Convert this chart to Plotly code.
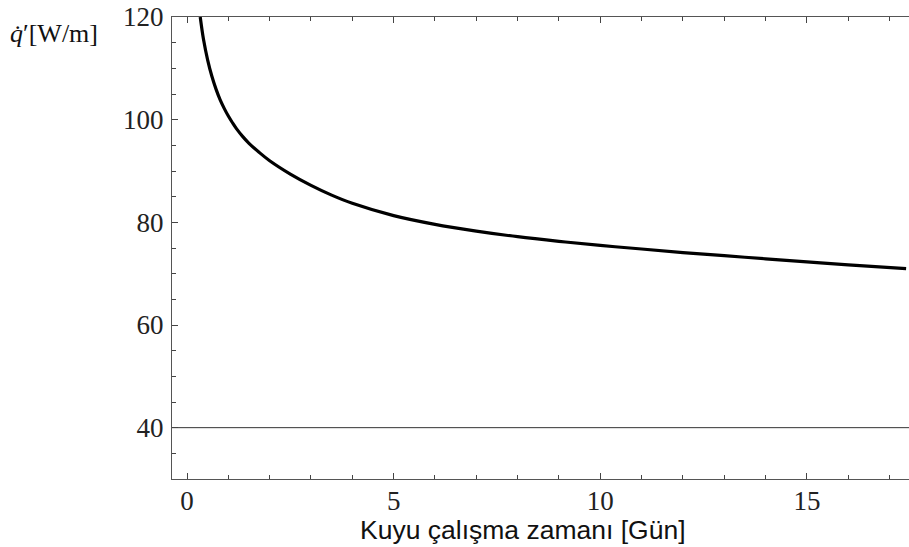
import plotly.graph_objects as go

# Data
time_days = [0.32, 0.40, 0.50, 0.60, 0.70, 0.80, 0.90, 1.0, 1.1, 1.2, 1.35, 1.5, 1.75, 2.0, 2.5, 3.0, 3.5, 4.0,
             5.0, 6.0, 7.0, 8.0, 9.0, 10.0, 11.0, 12.0, 13.0, 14.0, 15.0, 16.0, 17.4]
heat_rate = [120.0, 115.6, 111.6, 108.5, 106.0, 103.9, 102.2, 100.7, 99.4, 98.2, 96.7, 95.4, 93.6, 92.0, 89.4, 87.2,
             85.3, 83.7, 81.3, 79.6, 78.3, 77.2, 76.3, 75.5, 74.8, 74.1, 73.5, 72.9, 72.3, 71.7, 71.0]
baseline_value = 40
x_ticks = [0, 5, 10, 15]
y_ticks = [40, 60, 80, 100, 120]
x_range = [-0.363, 17.47]
y_range = [30, 120]

fig = go.Figure()
fig.add_trace(go.Scatter(x=x_range, y=[baseline_value, baseline_value], mode="lines",
                         line=dict(color="#333333", width=1), hoverinfo="skip", showlegend=False))
fig.add_trace(go.Scatter(x=time_days, y=heat_rate, mode="lines", line_shape="spline",
                         line=dict(color="black", width=3.2, smoothing=1.0), showlegend=False))

serif = "Liberation Serif, Times New Roman, serif"
fig.update_layout(
    width=909, height=547,
    margin=dict(l=172, r=0, t=17, b=68, pad=0),
    plot_bgcolor="white", paper_bgcolor="white",
    xaxis=dict(range=x_range, tickvals=x_ticks, ticks="inside", ticklen=6, tickwidth=1,
               tickcolor="#444", showline=True, linecolor="#555", linewidth=1.2, mirror="ticks",
               showgrid=False, zeroline=False, automargin=False, ticklabelstandoff=-3,
               tickfont=dict(family=serif, size=27, color="#222"),
               minor=dict(dtick=1, tick0=0, ticks="inside", ticklen=4, tickcolor="#444", showgrid=False)),
    yaxis=dict(range=y_range, tickvals=y_ticks, ticks="inside", ticklen=6, tickwidth=1,
               tickcolor="#444", showline=True, linecolor="#555", linewidth=1.2,
               showgrid=False, zeroline=False, ticklabelstandoff=2, automargin=False,
               tickfont=dict(family=serif, size=27, color="#222"),
               minor=dict(dtick=5, tick0=0, ticks="inside", ticklen=4, tickcolor="#444", showgrid=False)),
    annotations=[
        dict(text="Kuyu çalışma zamanı [Gün]", xref="paper", yref="paper",
             x=(523 - 172) / 737, y=-(530 - 479) / 462, xanchor="center", yanchor="middle",
             showarrow=False, font=dict(family="Liberation Sans, Arial, sans-serif", size=26.5, color="#111")),
        dict(text="<i>q̇</i>′[W/m]", xref="paper", yref="paper",
             x=-(172 - 8) / 737, y=1 + (17 - 33) / 462, xanchor="left", yanchor="middle",
             showarrow=False, font=dict(family=serif, size=26, color="#111")),
    ],
)

fig.write_html("out.html", config={"displayModeBar": False})

# remove the default page margin so the figure starts at the window's corner
with open("out.html", "r", encoding="utf-8") as f:
    html = f.read()
html = html.replace("<body>", '<body style="margin:0;overflow:hidden">', 1)
with open("out.html", "w", encoding="utf-8") as f:
    f.write(html)
